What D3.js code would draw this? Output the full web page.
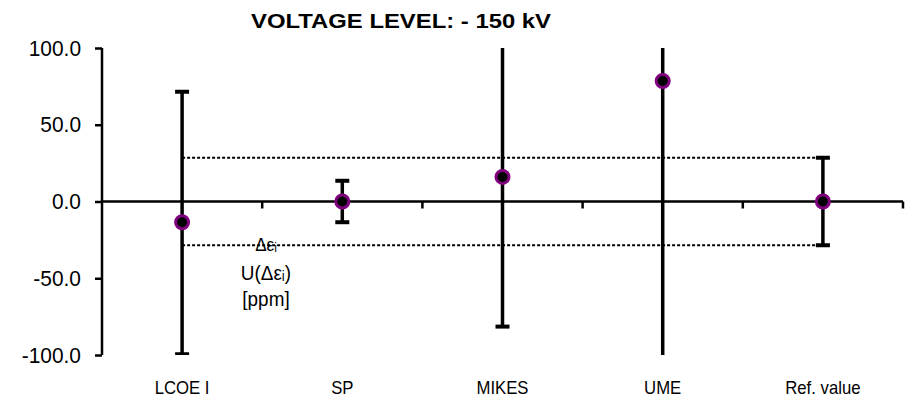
<!DOCTYPE html>
<html>
<head>
<meta charset="utf-8">
<script src="https://cdn.jsdelivr.net/npm/d3@7"></script>
<style>
  body { margin: 0; background: #fff; }
  svg { display: block; }
  text { font-family: "Liberation Sans", Arial, "DejaVu Sans", sans-serif; fill: #000; }
</style>
</head>
<body>
<svg></svg>
<script>
let labs = ['LCOE I', 'SP', 'MIKES', 'UME', 'Ref. value']
let vals = [-13.5, 0, 16, 78.5, 0]
let errUp = [85, 13.5, 120, 150, 28.5]
let errDown = [86, 13.5, 97.5, 190, 28.5]
let refU = 28.5
let yTicks = [-100, -50, 0, 50, 100]
let noteLines = ['Δεᵢ', 'U(Δεᵢ)', '[ppm]']

let width = 906
let height = 403
let padLeft = 102
let padRight = 903
let padTop = 48
let padBottom = 355

let svg = d3.select('svg').attr('width', width).attr('height', height)

// narrow the text a bit, the original uses a condensed face
let squeeze = (sel, k) => {
  sel.each(function() {
    let len = this.getComputedTextLength()
    d3.select(this).attr('textLength', len * k).attr('lengthAdjust', 'spacingAndGlyphs')
  })
}

let xScale = d3.scaleBand().domain(labs).range([padLeft, padRight])
let yScale = d3.scaleLinear().domain([-100, 100]).range([padBottom, padTop])
let cx = (d) => xScale(d) + xScale.bandwidth() / 2

svg.append('defs').append('clipPath').attr('id', 'plot')
   .append('rect').attr('x', padLeft - 20).attr('y', padTop).attr('width', padRight - padLeft + 40).attr('height', padBottom - padTop)

// title
svg.append('text')
   .attr('x', 401).attr('y', 28)
   .attr('text-anchor', 'middle')
   .style('font-weight', 'bold').style('font-size', '21px')
   .attr('textLength', 300).attr('lengthAdjust', 'spacingAndGlyphs')
   .text('VOLTAGE LEVEL: - 150 kV')

// y axis
let yAxis = d3.axisLeft(yScale).tickValues(yTicks).tickFormat((d) => d.toFixed(1)).tickSize(7).tickPadding(14)
let gy = svg.append('g').attr('transform', 'translate(' + padLeft + ',0)').call(yAxis)
gy.select('.domain').attr('stroke', '#000').attr('stroke-width', 2.5).attr('d', 'M0,' + padTop + 'V' + padBottom)
gy.selectAll('.tick line').attr('stroke', '#000').attr('stroke-width', 2.5)
gy.selectAll('.tick text').style('font-size', '22px').style('font-family', '"Liberation Sans", Arial, sans-serif').attr('fill', '#000')
squeeze(gy.selectAll('.tick text'), 0.95)

// x axis through zero
let xAxis = d3.axisBottom(xScale).tickSize(0).tickFormat('')
let gx = svg.append('g').attr('transform', 'translate(0,' + yScale(0) + ')').call(xAxis)
gx.select('.domain').attr('stroke', '#000').attr('stroke-width', 2.5).attr('d', 'M' + padLeft + ',0H' + padRight)
gx.selectAll('.tick').remove()
gx.selectAll('.bnd').data(labs).enter().append('line')
  .attr('x1', (d) => xScale(d) + xScale.bandwidth()).attr('x2', (d) => xScale(d) + xScale.bandwidth())
  .attr('y1', 0).attr('y2', 7)
  .attr('stroke', '#000').attr('stroke-width', 2.5)

// category labels
let cats = svg.selectAll('.cat').data(labs).enter().append('text')
   .attr('x', cx).attr('y', 394)
   .attr('text-anchor', 'middle')
   .style('font-size', '19px')
   .text((d) => d)
squeeze(cats, 0.88)

// reference band dashed lines
let x0 = cx(labs[0]), x1 = cx(labs[labs.length - 1])
;[refU, -refU].forEach((v) => {
  svg.append('line')
     .attr('x1', x0).attr('x2', x1)
     .attr('y1', yScale(v)).attr('y2', yScale(v))
     .attr('stroke', '#000').attr('stroke-width', 2)
     .attr('stroke-dasharray', '3,2')
})

// error bars
let eb = svg.append('g').attr('clip-path', 'url(#plot)')
labs.forEach((d, i) => {
  let x = cx(d)
  let hi = vals[i] + errUp[i]
  let lo = vals[i] - errDown[i]
  eb.append('line').attr('x1', x).attr('x2', x)
    .attr('y1', yScale(hi)).attr('y2', yScale(lo))
    .attr('stroke', '#000').attr('stroke-width', 3.5)
  ;[hi, lo].forEach((v) => {
    eb.append('line').attr('x1', x - 7).attr('x2', x + 7)
      .attr('y1', yScale(v)).attr('y2', yScale(v))
      .attr('stroke', '#000').attr('stroke-width', 4)
  })
})

// points
svg.selectAll('.pt').data(labs).enter().append('circle')
   .attr('cx', cx).attr('cy', (d, i) => yScale(vals[i]))
   .attr('r', 6.5)
   .attr('fill', '#000').attr('stroke', '#800080').attr('stroke-width', 3)

// annotation (y-axis title sitting inside the plot)
let ax = 266
let noteY = [251, 280, 306]
let note = svg.selectAll('.note').data(noteLines).enter().append('text')
   .attr('x', ax).attr('y', (d, i) => noteY[i])
   .attr('text-anchor', 'middle')
   .style('font-size', (d, i) => i == 0 ? '19px' : '21px')
   .text((d) => d)
squeeze(note, 0.9)
</script>
</body>
</html>
